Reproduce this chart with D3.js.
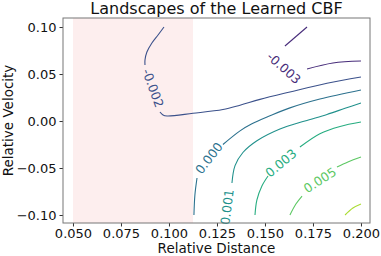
<!DOCTYPE html>
<html lang="en">
<head>
<meta charset="UTF-8">
<title>Landscapes of the Learned CBF</title>
<style>
  body { margin: 0; background: #fff; }
  svg { display: block; font-family: "DejaVu Sans", sans-serif; }
</style>
</head>
<body>
<svg id="chart"></svg>
<script src="https://d3js.org/d3.v7.min.js"></script>
<script>
// axis ticks
const xTicks = [0.05, 0.075, 0.1, 0.125, 0.15, 0.175, 0.2];
const yTicks = [0.10, 0.05, 0.00, -0.05, -0.10];

// unsafe region shaded on the distance axis
const unsafeSpan = [0.05, 0.1125];

// contour levels and the visible pieces of each line (gaps left where labels sit)
const levels = [-0.003, -0.0015, 0, 0.0015, 0.003, 0.0045, 0.006];
const contourLines = [
  // -0.003
  [[[0.1719, 0.100], [0.1604, 0.0798]],
   [[0.1719, 0.0553], [0.1854, 0.0617], [0.2000, 0.0638]]],
  // -0.0015
  [[[0.0974, 0.100], [0.0943, 0.0915], [0.0911, 0.0830], [0.0885, 0.0734], [0.0875, 0.0649], [0.0875, 0.0596]],
   [[0.0953, 0.0096], [0.0969, 0.0064], [0.0990, 0.0053], [0.1125, 0.0082], [0.1281, 0.0122], [0.1370, 0.0168],
    [0.1474, 0.0230], [0.1630, 0.0309], [0.1823, 0.0402], [0.2000, 0.0468]]],
  // 0
  [[[0.1130, -0.1000], [0.1135, -0.0787], [0.1146, -0.0606]],
   [[0.1281, -0.0250], [0.1370, -0.0105], [0.1432, -0.0030], [0.1526, 0.0055], [0.1630, 0.0140], [0.1786, 0.0234], [0.2000, 0.0330]]],
  // 0.0015
  [[[0.1328, -0.0660], [0.1344, -0.0475], [0.1385, -0.0335], [0.1458, -0.0210], [0.1578, -0.0085],
    [0.1708, 0.0000], [0.1823, 0.0070], [0.1917, 0.0135], [0.2000, 0.0191]]],
  // 0.003
  [[[0.1448, -0.1000], [0.1458, -0.0840], [0.1484, -0.0691], [0.1516, -0.0585]],
   [[0.1682, -0.0277], [0.1786, -0.0135], [0.1891, -0.0058], [0.2000, -0.0011]]],
  // 0.0045
  [[[0.1630, -0.1000], [0.1661, -0.0883], [0.1693, -0.0798]],
   [[0.1875, -0.0489], [0.1932, -0.0436], [0.2000, -0.0383]]],
  // 0.006
  [[[0.1917, -0.1000], [0.1958, -0.0926], [0.2000, -0.0883]]]
];

// inline contour labels: level index, text, position, rotation
const contourLabels = [
  { level: 0, text: "-0.003", x: 0.1599, y: 0.0564, angle: 42 },
  { level: 1, text: "-0.002", x: 0.0917, y: 0.0351, angle: 70 },
  { level: 2, text: "0.000", x: 0.1208, y: -0.0394, angle: -52 },
  { level: 3, text: "0.001", x: 0.1302, y: -0.0915, angle: -83 },
  { level: 4, text: "0.003", x: 0.1583, y: -0.0447, angle: -40 },
  { level: 5, text: "0.005", x: 0.1786, y: -0.0628, angle: -33 }
];

const width = 381, height = 256;
const plotLeft = 63, plotRight = 370, plotTop = 18, plotBottom = 223;

const svg = d3.select("#chart").attr("width", width).attr("height", height);

const x = d3.scaleLinear().domain([0.0448, 0.2047]).range([plotLeft, plotRight]);
const y = d3.scaleLinear().domain([-0.1085, 0.1096]).range([plotBottom, plotTop]);

const color = d3.scaleSequential(d3.interpolateViridis).domain([-0.0045, 0.0075]);

// shaded span
svg.append("rect")
  .attr("x", x(unsafeSpan[0]))
  .attr("y", plotTop)
  .attr("width", x(unsafeSpan[1]) - x(unsafeSpan[0]))
  .attr("height", plotBottom - plotTop)
  .attr("fill", "#fdeeee");

// contour lines
const line = d3.line().x(d => x(d[0])).y(d => y(d[1])).curve(d3.curveCatmullRom.alpha(0.5));
contourLines.forEach((segs, i) => {
  svg.append("g").selectAll("path")
    .data(segs)
    .enter()
    .append("path")
    .attr("d", line)
    .attr("fill", "none")
    .attr("stroke", color(levels[i]))
    .attr("stroke-width", 1.1);
});

// contour labels
svg.selectAll(".clabel")
  .data(contourLabels)
  .enter()
  .append("text")
  .attr("class", "clabel")
  .attr("transform", d => `translate(${x(d.x)},${y(d.y)}) rotate(${d.angle})`)
  .attr("text-anchor", "middle")
  .attr("dominant-baseline", "central")
  .attr("fill", d => color(levels[d.level]))
  .style("font-size", "12.5px")
  .text(d => d.text);

// axes
const xAxis = svg.append("g")
  .attr("transform", `translate(0,${plotBottom})`)
  .call(d3.axisBottom(x).tickValues(xTicks).tickFormat(d3.format(".3f")).tickSize(3.5).tickPadding(2.5));
const yAxis = svg.append("g")
  .attr("transform", `translate(${plotLeft},0)`)
  .call(d3.axisLeft(y).tickValues(yTicks).tickFormat(d3.format(".2f")).tickSize(3.5).tickPadding(3));

[xAxis, yAxis].forEach(g => {
  g.select(".domain").remove();
  g.selectAll("line").attr("stroke", "#333");
  g.selectAll("text")
    .attr("fill", "#111")
    .style("font-size", "13px")
    .style("font-family", "DejaVu Sans, sans-serif");
});

// frame
svg.append("rect")
  .attr("x", plotLeft).attr("y", plotTop)
  .attr("width", plotRight - plotLeft).attr("height", plotBottom - plotTop)
  .attr("fill", "none")
  .attr("stroke", "#777")
  .attr("stroke-width", 1);

// title and axis labels
svg.append("text")
  .attr("x", (plotLeft + plotRight) / 2).attr("y", 14)
  .attr("text-anchor", "middle")
  .style("font-size", "16px")
  .attr("fill", "#111")
  .text("Landscapes of the Learned CBF");

svg.append("text")
  .attr("x", (plotLeft + plotRight) / 2).attr("y", 253)
  .attr("text-anchor", "middle")
  .style("font-size", "13.5px")
  .attr("fill", "#111")
  .text("Relative Distance");

svg.append("text")
  .attr("transform", `translate(13,${(plotTop + plotBottom) / 2}) rotate(-90)`)
  .attr("text-anchor", "middle")
  .style("font-size", "13.5px")
  .attr("fill", "#111")
  .text("Relative Velocity");
</script>
</body>
</html>
